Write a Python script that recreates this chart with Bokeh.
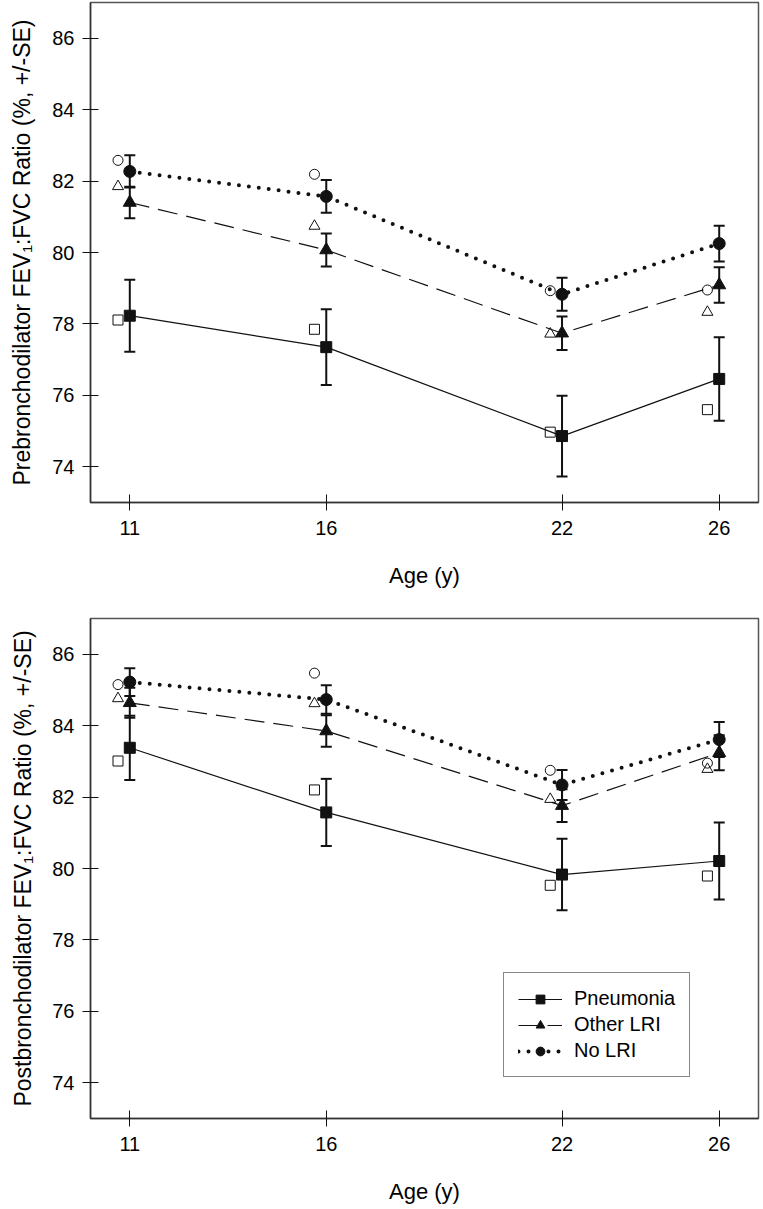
from bokeh.plotting import figure
from bokeh.layouts import column
from bokeh.models import (Range1d, FixedTicker, ColumnDataSource, Whisker, TeeHead,
                          Legend, LegendItem)
from bokeh.embed import file_html
from bokeh.resources import INLINE

# ---------------- data ----------------
ages = [11, 16, 22, 26]
x_ticks = [11, 16, 22, 26]
y_ticks = [74, 76, 78, 80, 82, 84, 86]
raw_offset = -0.3  # open (unadjusted) markers drawn just left of each age

pre_pneu_mean = [78.23, 77.35, 74.86, 76.46]
pre_pneu_se = [1.01, 1.06, 1.13, 1.17]
pre_pneu_raw = [78.11, 77.85, 74.97, 75.60]
pre_other_mean = [81.40, 80.07, 77.74, 79.09]
pre_other_se = [0.44, 0.46, 0.47, 0.50]
pre_other_raw = [81.85, 80.74, 77.72, 78.33]
pre_none_mean = [82.27, 81.57, 78.83, 80.25]
pre_none_se = [0.45, 0.46, 0.46, 0.50]
pre_none_raw = [82.58, 82.19, 78.93, 78.95]

post_pneu_mean = [83.38, 81.57, 79.83, 80.21]
post_pneu_se = [0.90, 0.94, 1.00, 1.08]
post_pneu_raw = [83.01, 82.20, 79.53, 79.79]
post_other_mean = [84.64, 83.85, 81.76, 83.24]
post_other_se = [0.42, 0.44, 0.46, 0.49]
post_other_raw = [84.76, 84.62, 81.94, 82.78]
post_none_mean = [85.22, 84.73, 82.34, 83.61]
post_none_se = [0.39, 0.40, 0.42, 0.49]
post_none_raw = [85.15, 85.47, 82.75, 82.95]

series_names = ["Pneumonia", "Other LRI", "No LRI"]
FONT = "Liberation Sans"
INK = "#111111"

STYLES = {
    "Pneumonia": dict(marker="square", size=11, raw_size=10, dash="solid", lw=1.2, cap="butt"),
    "Other LRI": dict(marker="triangle", size=13, raw_size=11, dash="20 9", lw=1.2, cap="butt"),
    "No LRI": dict(marker="circle", size=12, raw_size=10, dash="0 10", lw=4, cap="round"),
}


def make_fig(ylabel, data, border_left, frame_w, border_top, border_bottom,
             title_standoff, ylabel_standoff, with_legend=False):
    p = figure(frame_width=frame_w, frame_height=500,
               x_range=Range1d(10, 27), y_range=Range1d(73, 87),
               output_backend="svg", toolbar_location=None,
               min_border_left=border_left, min_border_right=2,
               min_border_top=border_top, min_border_bottom=border_bottom,
               background_fill_color="white", border_fill_color="white")
    p.grid.visible = False
    p.outline_line_color = "#555555"
    p.outline_line_width = 1.5

    for ax in (p.xaxis[0], p.yaxis[0]):
        ax.axis_line_color = "#333333"
        ax.axis_line_width = 1.5
        ax.major_tick_in = 8
        ax.major_tick_out = 8
        ax.major_tick_line_color = INK
        ax.major_tick_line_width = 1
        ax.minor_tick_line_color = None
        ax.major_label_text_font = FONT
        ax.major_label_text_font_size = "20px"
        ax.major_label_text_color = "black"
        ax.axis_label_text_font = FONT
        ax.axis_label_text_font_style = "normal"
        ax.axis_label_text_color = "black"
        ax.major_label_standoff = 8

    p.xaxis.ticker = FixedTicker(ticks=x_ticks)
    p.yaxis.ticker = FixedTicker(ticks=y_ticks)
    p.xaxis.axis_label = "Age (y)"
    p.xaxis.axis_label_text_font_size = "22px"
    p.xaxis.axis_label_standoff = title_standoff
    p.xaxis.major_label_standoff = 10
    p.yaxis.axis_label = ylabel
    p.yaxis.axis_label_text_font_size = "23px"
    p.yaxis.axis_label_standoff = ylabel_standoff

    legend_items = []
    for name in series_names:
        mean, se, raw = data[name]
        st = STYLES[name]
        src = ColumnDataSource(dict(
            x=ages, y=mean,
            upper=[m + s for m, s in zip(mean, se)],
            lower=[m - s for m, s in zip(mean, se)],
        ))
        w = Whisker(source=src, base="x", upper="upper", lower="lower",
                    dimension="height", line_width=2, line_color=INK,
                    upper_head=TeeHead(size=11, line_width=2, line_color=INK),
                    lower_head=TeeHead(size=11, line_width=2, line_color=INK))
        p.add_layout(w)
        ln = p.line("x", "y", source=src, line_color=INK, line_width=st["lw"],
                    line_dash=st["dash"], line_cap=st["cap"])
        sc = p.scatter("x", "y", source=src, marker=st["marker"], size=st["size"],
                       fill_color=INK, line_color=INK)
        legend_items.append(LegendItem(label=name, renderers=[ln, sc]))

    for name in series_names:
        mean, se, raw = data[name]
        st = STYLES[name]
        p.scatter([a + raw_offset for a in ages], raw, marker=st["marker"],
                  size=st["raw_size"], fill_color=None, line_color=INK, line_width=1)

    if with_legend:
        lg = Legend(items=legend_items, location=(413, 41), margin=0,
                    padding=14, spacing=3, glyph_width=44, glyph_height=22,
                    label_height=22, label_standoff=12,
                    label_text_font=FONT, label_text_font_size="20px",
                    label_text_color="black",
                    border_line_color=INK, border_line_width=1,
                    background_fill_color="white", background_fill_alpha=1)
        p.add_layout(lg)
    return p


pre_data = {
    "Pneumonia": (pre_pneu_mean, pre_pneu_se, pre_pneu_raw),
    "Other LRI": (pre_other_mean, pre_other_se, pre_other_raw),
    "No LRI": (pre_none_mean, pre_none_se, pre_none_raw),
}
post_data = {
    "Pneumonia": (post_pneu_mean, post_pneu_se, post_pneu_raw),
    "Other LRI": (post_other_mean, post_other_se, post_other_raw),
    "No LRI": (post_none_mean, post_none_se, post_none_raw),
}

p1 = make_fig("Prebronchodilator FEV\u2081:FVC Ratio (%, +/-SE)", pre_data,
              border_left=90, frame_w=668, border_top=2, border_bottom=95,
              title_standoff=25, ylabel_standoff=14)
p2 = make_fig("Postbronchodilator FEV\u2081:FVC Ratio (%, +/-SE)", post_data,
              border_left=90, frame_w=668, border_top=21, border_bottom=87,
              title_standoff=25, ylabel_standoff=13, with_legend=True)

layout = column(p1, p2, spacing=0)
open("out.html", "w").write(file_html(layout, INLINE))
